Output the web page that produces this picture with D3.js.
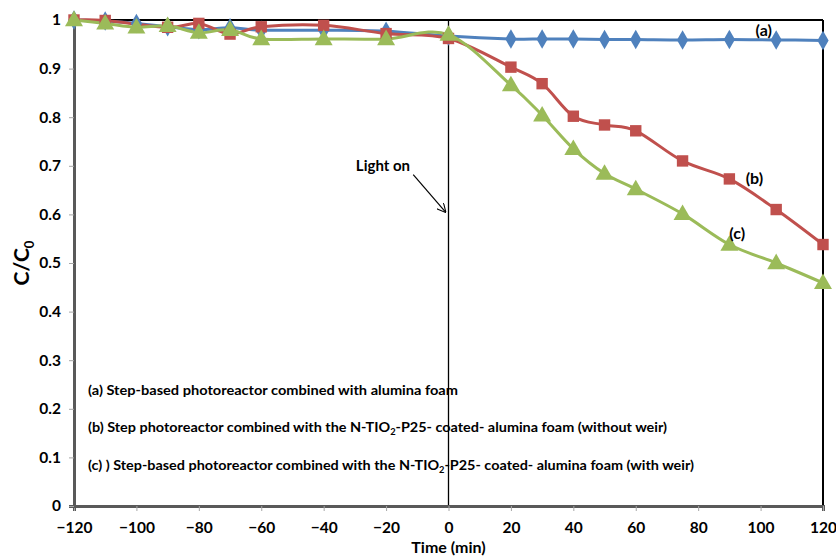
<!DOCTYPE html>
<html>
<head>
<meta charset="utf-8">
<script src="https://cdn.jsdelivr.net/npm/d3@7"></script>
<style>
  html, body { margin: 0; padding: 0; background: #fff; }
  svg { display: block; font-family: Lato, "Open Sans", sans-serif; }
</style>
</head>
<body>
<svg id="chart" width="836" height="556"></svg>
<script>
// Time points (min) and C/C0 readings for each reactor configuration
const timeA = [-120, -110, -100, -90, -80, -70, -60, -40, -20, 0, 20, 30, 40, 50, 60, 75, 90, 105, 120];
const valuesA = [1.0, 0.998, 0.993, 0.986, 0.98, 0.984, 0.979, 0.979, 0.977, 0.967, 0.961, 0.961, 0.961, 0.960, 0.960, 0.959, 0.960, 0.959, 0.958];

const timeB = [-120, -110, -90, -80, -70, -60, -40, -20, 0, 20, 30, 40, 50, 60, 75, 90, 105, 120];
const valuesB = [1.0, 0.999, 0.985, 0.993, 0.971, 0.986, 0.989, 0.972, 0.962, 0.903, 0.869, 0.802, 0.784, 0.772, 0.710, 0.673, 0.610, 0.538];

const timeC = [-120, -110, -100, -90, -80, -70, -60, -40, -20, 0, 20, 30, 40, 50, 60, 75, 90, 105, 120];
const valuesC = [1.0, 0.993, 0.985, 0.988, 0.974, 0.980, 0.961, 0.961, 0.961, 0.970, 0.866, 0.804, 0.735, 0.684, 0.652, 0.601, 0.538, 0.500, 0.459];

const xTicks = [-120, -100, -80, -60, -40, -20, 0, 20, 40, 60, 80, 100, 120];
const yTicks = [0, 0.1, 0.2, 0.3, 0.4, 0.5, 0.6, 0.7, 0.8, 0.9, 1];

const seriesNames = ["(a)", "(b)", "(c)"];
const seriesColors = ["#4F81BD", "#C0504D", "#9BBB59"];
const seriesShapes = [d3.symbolDiamond, d3.symbolSquare, d3.symbolTriangle];

const legendLines = [
  [["(a) Step-based photoreactor combined with alumina foam", false]],
  [["(b) Step photoreactor combined with the N-TIO", false], ["2", true], ["-P25- coated- alumina foam (without weir)", false]],
  [["(c) ) Step-based photoreactor combined with the N-TIO", false], ["2", true], ["-P25- coated- alumina foam (with weir)", false]]
];
const legendWidths = [370, 579, 606];

const svg = d3.select("#chart");
const margin = { left: 74, top: 20, right: 13, bottom: 50 };
const W = 836 - margin.left - margin.right;
const H = 556 - margin.top - margin.bottom;

const x = d3.scaleLinear().domain([-120, 120]).range([0, W]);
const y = d3.scaleLinear().domain([0, 1]).range([H, 0]);

const g = svg.append("g").attr("transform", `translate(${margin.left},${margin.top})`);

// Frame: top and right borders, and the "light on" divider at t = 0
g.append("line").attr("x1", 0).attr("x2", W).attr("y1", 0).attr("y2", 0)
  .attr("stroke", "#000").attr("stroke-width", 2);
g.append("line").attr("x1", W).attr("x2", W).attr("y1", 0).attr("y2", H)
  .attr("stroke", "#000").attr("stroke-width", 2);
g.append("line").attr("x1", x(0)).attr("x2", x(0)).attr("y1", 0).attr("y2", H)
  .attr("stroke", "#000").attr("stroke-width", 1.3);

// Axes
const xAxis = g.append("g").attr("transform", `translate(0,${H})`)
  .call(d3.axisBottom(x).tickValues(xTicks).tickSize(5).tickPadding(8).tickFormat(d3.format("d")));
const yAxis = g.append("g")
  .call(d3.axisLeft(y).tickValues(yTicks).tickSize(5).tickPadding(8).tickFormat(d => d === 0 || d === 1 ? String(d) : d3.format(".1f")(d)));

[xAxis, yAxis].forEach(ax => {
  ax.select(".domain").attr("stroke", "#595959").attr("stroke-width", 3);
  ax.selectAll(".tick line").attr("stroke", "#a6a6a6").attr("stroke-width", 1);
  ax.selectAll(".tick text").attr("fill", "#000").attr("font-size", 15.5).attr("font-weight", 700)
    .attr("font-family", "Lato, sans-serif");
});
xAxis.selectAll(".tick text").attr("dy", "0.9em");

// Series lines with markers
const datasets = [
  timeA.map((t, i) => [t, valuesA[i]]),
  timeB.map((t, i) => [t, valuesB[i]]),
  timeC.map((t, i) => [t, valuesC[i]])
];

const line = d3.line().x(d => x(d[0])).y(d => y(d[1])).curve(d3.curveCardinal.tension(0));

datasets.forEach((data, k) => {
  g.append("path").datum(data).attr("d", line)
    .attr("fill", "none").attr("stroke", seriesColors[k]).attr("stroke-width", 3)
    .attr("stroke-linejoin", "round");
});

const symbolSizes = [110, 130, 140];
datasets.forEach((data, k) => {
  const sym = d3.symbol().type(seriesShapes[k]).size(symbolSizes[k]);
  g.append("g").selectAll("path").data(data).join("path")
    .attr("d", sym)
    .attr("transform", d => `translate(${x(d[0])},${y(d[1]) + (k === 2 ? 1 : 0)})`)
    .attr("fill", seriesColors[k]);
});

// Curve labels
const curveLabels = [
  { name: seriesNames[0], t: 101, v: valuesA[17], dy: -4 },
  { name: seriesNames[1], t: 98, v: valuesB[15], dy: 5 },
  { name: seriesNames[2], t: 92.5, v: valuesC[16], dy: -6 }
];
curveLabels.forEach(c => {
  g.append("text").attr("x", x(c.t)).attr("y", y(c.v) + c.dy)
    .attr("text-anchor", "middle").attr("font-size", 16).attr("font-weight", 700)
    .attr("fill", "#000").text(c.name);
});

// "Light on" annotation with arrow
const defs = svg.append("defs");
defs.append("marker").attr("id", "arrow").attr("viewBox", "0 0 10 10")
  .attr("refX", 9).attr("refY", 5).attr("markerWidth", 9).attr("markerHeight", 9)
  .attr("orient", "auto-start-reverse").attr("markerUnits", "userSpaceOnUse")
  .append("path").attr("d", "M0,0 L10,5 L0,10").attr("fill", "none").attr("stroke", "#000").attr("stroke-width", 1.2);

g.append("text").attr("x", x(-21)).attr("y", y(0.7) + 5).attr("text-anchor", "middle")
  .attr("font-size", 15).attr("font-weight", 700).attr("fill", "#000").text("Light on");
g.append("line").attr("x1", x(-11.3)).attr("y1", y(0.68) - 1).attr("x2", x(-1)).attr("y2", y(0.605))
  .attr("stroke", "#000").attr("stroke-width", 1.2).attr("marker-end", "url(#arrow)");

// Legend text inside plot
const legendY = [0.238, 0.162, 0.084];
legendLines.forEach((parts, i) => {
  const t = g.append("text").attr("x", 14).attr("y", y(legendY[i]) + 5)
    .attr("font-size", 14).attr("font-weight", 700).attr("fill", "#000")
    .attr("textLength", legendWidths[i]).attr("lengthAdjust", "spacingAndGlyphs");
  parts.forEach(([str, sub]) => {
    const span = t.append("tspan").text(str);
    if (sub) span.attr("font-size", 9).attr("dy", 3);
    else if (t.selectAll("tspan").size() > 1) span.attr("dy", -3);
  });
});

// Axis titles
g.append("text").attr("x", x(0)).attr("y", H + 47).attr("text-anchor", "middle")
  .attr("font-size", 16).attr("font-weight", 700).attr("fill", "#000").text("Time (min)");

const yt = svg.append("text").attr("transform", `translate(29,${margin.top + y(0.5)}) rotate(-90)`)
  .attr("text-anchor", "middle").attr("font-size", 21).attr("font-weight", 700).attr("fill", "#000");
yt.append("tspan").text("C/C");
yt.append("tspan").text("0").attr("font-size", 13).attr("dy", 5);
</script>
</body>
</html>
